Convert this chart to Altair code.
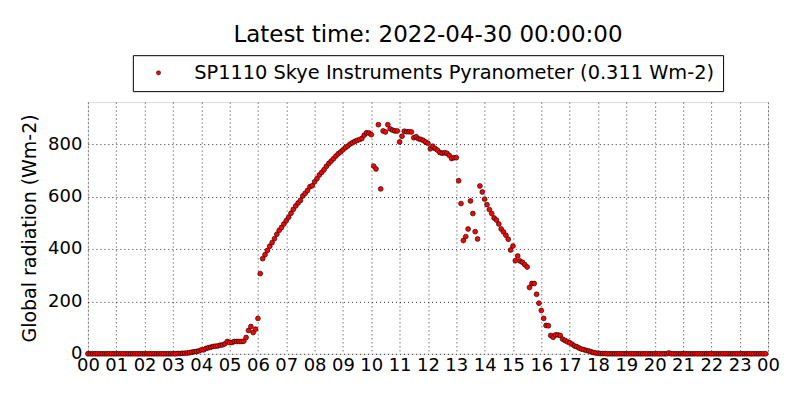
import altair as alt
import pandas as pd

SERIES = "SP1110 Skye Instruments Pyranometer (0.311 Wm-2)"
TITLE = "Latest time: 2022-04-30 00:00:00"
Y_TITLE = "Global radiation (Wm-2)"

# 5-minute readings (Wm-2), one list per hour
h00 = [0] * 12
h01 = [0] * 12
h02 = [0] * 12
h03 = [0, 0, 1, 1, 2, 2, 3, 4, 6, 8, 9, 11]
h04 = [15, 15, 20, 23, 25, 28, 29, 30, 33, 34, 38, 47]
h05 = [43, 43, 47, 47, 47, 47, 48, 62, 89, 104, 81, 94]
h06 = [135, 306, 363, 378, 394, 410, 424, 439, 456, 471, 482, 495]
h07 = [508, 521, 536, 551, 564, 575, 585, 602, 612, 623, 637, 641]
h08 = [656, 668, 682, 692, 702, 715, 726, 735, 744, 754, 763, 770]
h09 = [778, 786, 792, 800, 805, 810, 814, 817, 821, 834, 843, 842]
h10 = [836, 716, 705, 874, 629, 850, 846, 874, 858, 853, 850, 850]
h11 = [808, 830, 849, 847, 847, 846, 824, 828, 820, 818, 814, 808]
h12 = [803, 782, 792, 783, 777, 768, 765, 767, 765, 757, 745, 748]
h13 = [748, 660, 573, 432, 447, 476, 583, 535, 466, 438, 640, 617]
h14 = [590, 569, 550, 535, 518, 510, 495, 476, 465, 452, 437, 396]
h15 = [411, 355, 373, 354, 349, 340, 331, 253, 268, 268, 227, 193]
h16 = [165, 135, 108, 107, 70, 63, 72, 72, 70, 56, 51, 46]
h17 = [42, 37, 30, 27, 22, 18, 16, 13, 11, 8, 5, 3]
h18 = [2, 1, 1, 1, 0, 0, 0, 0, 0, 0, 0, 0]
h19 = [0] * 12
h20 = [0, 0, 0, 0, 0, 0, 3, 0, 0, 0, 0, 0]
h21 = [0] * 12
h22 = [0] * 12
h23 = [0] * 12

hourly = [h00, h01, h02, h03, h04, h05, h06, h07, h08, h09, h10, h11,
          h12, h13, h14, h15, h16, h17, h18, h19, h20, h21, h22, h23]

x_ticks = list(range(25))
y_ticks = [0, 200, 400, 600, 800]

rows = []
for h, vals in enumerate(hourly):
    for i, v in enumerate(vals):
        rows.append({"hour": h + i * 5 / 60.0, "rad": v, "series": SERIES})
df = pd.DataFrame(rows)

FONT = "DejaVu Sans"

chart = alt.Chart(df).mark_point(
    filled=True, size=24, stroke="black", strokeWidth=0.6, opacity=1, shape="circle"
).encode(
    x=alt.X(
        "hour:Q",
        scale=alt.Scale(domain=[0, 24], nice=False, zero=False),
        axis=alt.Axis(
            values=x_ticks,
            labelExpr="datum.value == 24 ? '00' : (datum.value < 10 ? '0' + datum.value : '' + datum.value)",
            title=None,
            grid=True,
            gridColor="black",
            gridDash=[1, 3],
            gridWidth=0.8,
            gridOpacity=1,
            ticks=False,
            domain=False,
            labelPadding=3,
            labelFontSize=18,
            labelFont=FONT,
            labelColor="black",
            labelOverlap=False,
            labelFlush=False,
        ),
    ),
    y=alt.Y(
        "rad:Q",
        scale=alt.Scale(domain=[0, 960], nice=False),
        axis=alt.Axis(
            values=y_ticks,
            title=Y_TITLE,
            titleFontSize=19,
            titleFont=FONT,
            titleFontWeight="normal",
            titleColor="black",
            titlePadding=8,
            grid=True,
            gridColor="black",
            gridDash=[1, 3],
            gridWidth=0.8,
            gridOpacity=1,
            ticks=False,
            domain=False,
            labelPadding=6,
            labelFontSize=18,
            labelFont=FONT,
            labelColor="black",
            labelOverlap=False,
            labelFlush=False,
        ),
    ),
    color=alt.Color(
        "series:N",
        scale=alt.Scale(range=["#ff0000"]),
        legend=alt.Legend(
            title=None,
            orient="none",
            legendX=45,
            legendY=-47,
            direction="horizontal",
            strokeColor="black",
            fillColor="white",
            padding=8,
            labelFontSize=19.4,
            labelFont=FONT,
            labelColor="black",
            labelLimit=800,
            symbolType="circle",
            symbolSize=18,
            symbolOffset=8,
            labelOffset=26,
            symbolStrokeColor="black",
            symbolStrokeWidth=0.5,
            cornerRadius=0,
        ),
    ),
).properties(
    width=681,
    height=252,
    title=alt.TitleParams(
        TITLE, fontSize=23, font=FONT, fontWeight="normal", color="black",
        anchor="middle", offset=8,
    ),
    autosize=alt.AutoSizeParams(type="none"),
    padding={"left": 80, "top": 94, "right": 24, "bottom": 38},
).configure_view(
    stroke="black", strokeWidth=1
).configure(background="white")

chart.save("out.html", embed_options={"renderer": "svg", "actions": False})
